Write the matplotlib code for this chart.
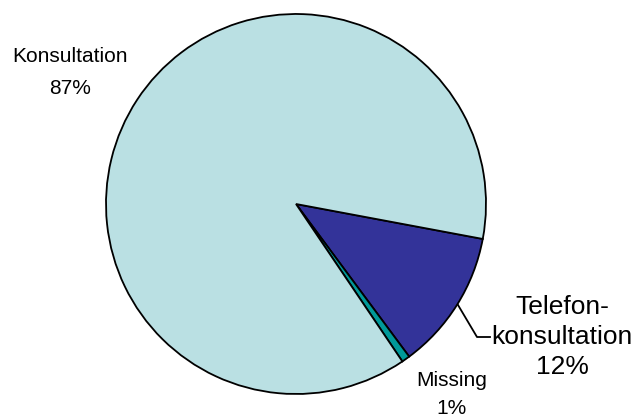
import matplotlib
matplotlib.use("Agg")
import matplotlib.pyplot as plt

labels = ["Telefon-\nkonsultation", "Missing", "Konsultation"]
values = [11.9, 0.7, 87.4]
colors = ["#333399", "#009999", "#BAE0E3"]

W, H = 637, 419
fig = plt.figure(figsize=(W / 100, H / 100), dpi=100)
ax = fig.add_axes([0, 0, 1, 1])
ax.set_xlim(0, W)
ax.set_ylim(0, H)
ax.set_aspect("equal")
ax.axis("off")

cx, cy, r = 296, H - 204, 190
wedges, _ = ax.pie(values, colors=colors, startangle=-10.6, counterclock=False,
                   center=(cx, cy), radius=r, frame=True,
                   wedgeprops=dict(edgecolor="black", linewidth=1.3))
ax.set_xlim(0, W)
ax.set_ylim(0, H)
ax.axis("off")

font = ["Liberation Sans", "DejaVu Sans"]
pct = [f"{round(v):d}%" for v in values]

# Konsultation label
ax.text(70, H - 56, labels[2], ha="center", va="center", fontsize=15, family=font)
ax.text(70, H - 88, pct[2], ha="center", va="center", fontsize=15, family=font)
# Missing label
ax.text(452, H - 381, labels[1], ha="center", va="center", fontsize=15, family=font)
ax.text(452, H - 408, pct[1], ha="center", va="center", fontsize=15, family=font)
# Telefonkonsultation label
l1, l2 = labels[0].split("\n")
ax.text(562, H - 307, l1, ha="center", va="center", fontsize=19, family=font)
ax.text(562, H - 337, l2, ha="center", va="center", fontsize=19, family=font)
ax.text(562, H - 367, pct[0], ha="center", va="center", fontsize=19, family=font)
# leader line
ax.plot([458, 477, 490], [H - 305, H - 337, H - 337], color="black", lw=1.3)

fig.savefig("out.png", dpi=100)
